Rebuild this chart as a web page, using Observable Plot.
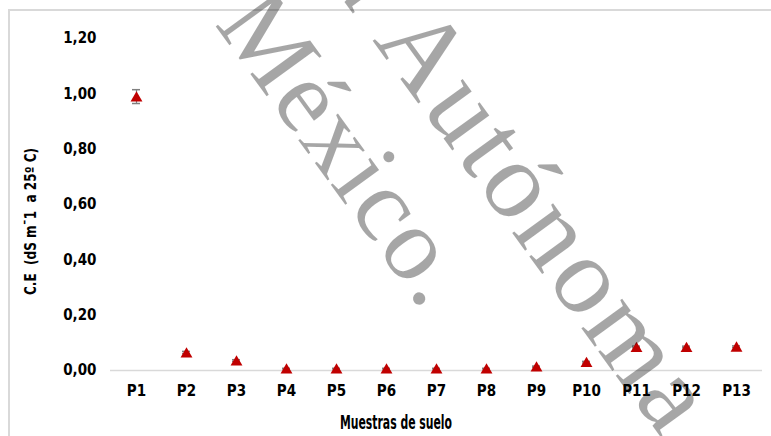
<!DOCTYPE html>
<html>
<head>
<meta charset="utf-8">
<script src="https://cdn.jsdelivr.net/npm/d3@7"></script>
<script src="https://cdn.jsdelivr.net/npm/@observablehq/plot@0.6"></script>
<style>
  html, body { margin: 0; padding: 0; background: #fff; overflow: hidden; }
  #wrap { position: relative; width: 771px; height: 436px; }
  #frame { position: absolute; left: 8px; top: 9px; width: 800px; height: 500px;
           border-top: 2px solid #d9d9d9; border-left: 2px solid #d9d9d9; box-sizing: border-box; }
  #wrap svg { position: absolute; left: 0; top: 0; }
  .wm text { font-family: "Liberation Serif", "Times New Roman", "DejaVu Serif", serif; font-weight: normal; }
</style>
</head>
<body>
<div id="wrap"><div id="frame"></div></div>
<script>
// Soil samples and electrical conductivity (dS m-1 at 25 °C), mean ± error
const samples = ["P1", "P2", "P3", "P4", "P5", "P6", "P7", "P8", "P9", "P10", "P11", "P12", "P13"];
const ceValues = [0.99, 0.065, 0.036, 0.007, 0.007, 0.007, 0.007, 0.007, 0.014, 0.030, 0.085, 0.085, 0.086];
const ceErrors = [0.025, 0.004, 0.003, 0.001, 0.001, 0.001, 0.001, 0.001, 0.002, 0.003, 0.003, 0.003, 0.003];
const yTicks = [0, 0.2, 0.4, 0.6, 0.8, 1.0, 1.2];

const xTitle = "Muestras de suelo";
const yTitle = "C.E  (dS m\u00AF1  a 25º C)";
const watermarkLines = [["Universidad", "Autónoma"], ["del Estado de", "México."]];

const rows = samples.map((s, i) => ({sample: s, ce: ceValues[i], err: ceErrors[i]}));

const font = "'Liberation Sans Narrow', 'DejaVu Sans Condensed', sans-serif";

const chart = Plot.plot({
  width: 771,
  height: 436,
  marginLeft: 110,
  marginRight: 9,
  marginTop: 38,
  marginBottom: 66,
  style: {background: "transparent", fontFamily: font, fontWeight: "bold", fontSize: "15px", color: "#000", overflow: "visible"},
  x: {type: "band", domain: samples, padding: 0, label: null, tickSize: 0, tickPadding: 15},
  y: {domain: [0, 1.2], ticks: yTicks, tickFormat: d => d.toFixed(2).replace(".", ","), tickSize: 0, tickPadding: 14, label: null},
  marks: [
    Plot.ruleY([0], {stroke: "#d9d9d9", strokeWidth: 1.5}),
    Plot.ruleX(rows, {x: "sample", y1: d => d.ce - d.err, y2: d => d.ce + d.err, stroke: "#808080", strokeWidth: 1.2}),
    Plot.tickY(rows, {x: "sample", y: d => d.ce - d.err, stroke: "#808080", strokeWidth: 1.5, insetLeft: 21, insetRight: 21}),
    Plot.tickY(rows, {x: "sample", y: d => d.ce + d.err, stroke: "#808080", strokeWidth: 1.5, insetLeft: 21, insetRight: 21}),
    Plot.dot(rows, {x: "sample", y: "ce", symbol: "triangle", r: 4.4, fill: "#c00000", stroke: "none", dy: 1.5})
  ]
});

document.getElementById("wrap").appendChild(chart);

const svg = d3.select(chart);

// Axis titles
svg.append("text")
  .attr("x", 396).attr("y", 429)
  .attr("text-anchor", "middle")
  .style("font-family", font).style("font-weight", "bold").style("font-size", "19px")
  .attr("textLength", 112).attr("lengthAdjust", "spacingAndGlyphs")
  .attr("fill", "#000")
  .text(xTitle);

svg.append("text")
  .attr("transform", "translate(36,221.5) rotate(-90)")
  .attr("text-anchor", "middle")
  .style("font-family", font).style("font-weight", "bold").style("font-size", "16px")
  .attr("textLength", 147).attr("lengthAdjust", "spacingAndGlyphs")
  .attr("fill", "#000")
  .text(yTitle);

// Diagonal institutional watermark
const wm = svg.append("g")
  .attr("class", "wm")
  .attr("fill", "#000")
  .attr("fill-opacity", 0.35)
  .style("pointer-events", "none");
const wmLayout = [
  {x: 372, y: 40, size: 110, spacing: 4},
  {x: 214, y: 24, size: 104, spacing: 2}
];
watermarkLines.forEach(([pre, word], i) => {
  const o = wmLayout[i];
  const g = wm.append("g")
    .attr("transform", `translate(${o.x},${o.y}) rotate(54)`)
    .style("font-size", `${o.size}px`)
    .style("letter-spacing", `${o.spacing}px`);
  g.append("text").attr("x", -o.size / 4).attr("text-anchor", "end").text(pre);
  g.append("text").attr("x", 0).attr("text-anchor", "start").text(word);
});
</script>
</body>
</html>
